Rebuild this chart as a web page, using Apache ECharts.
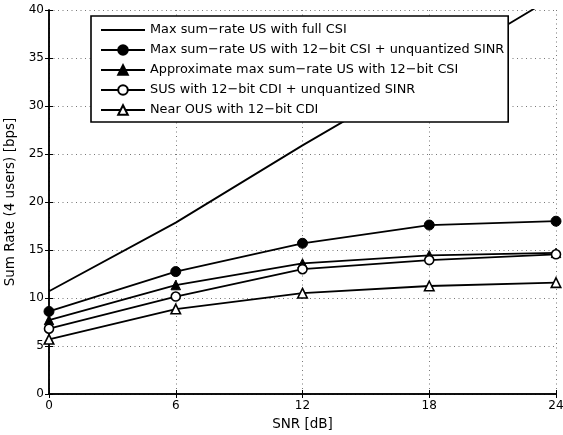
<!DOCTYPE html>
<html><head><meta charset="utf-8">
<script src="https://cdn.jsdelivr.net/npm/echarts@6/dist/echarts.min.js"></script>
<style>html,body{margin:0;padding:0;background:#fff}#c{width:563px;height:435px}</style>
</head><body><div id="c"></div>
<script>
const snr = [0, 6, 12, 18, 24];
const xTicks = [0, 6, 12, 18, 24];
const yTicks = [0, 5, 10, 15, 20, 25, 30, 35, 40];
const fullCSI = [10.7, 17.85, 25.9, 33.6, 41.5];
const csi12Sinr = [8.6, 12.75, 15.7, 17.6, 18.0];
const approx12 = [7.7, 11.35, 13.6, 14.45, 14.7];
const sus12 = [6.8, 10.15, 13.0, 13.95, 14.55];
const nearOus12 = [5.7, 8.85, 10.5, 11.25, 11.6];
const names = [
  'Max sum\u2212rate US with full CSI',
  'Max sum\u2212rate US with 12\u2212bit CSI + unquantized SINR',
  'Approximate max sum\u2212rate US with 12\u2212bit CSI',
  'SUS with 12\u2212bit CDI + unquantized SINR',
  'Near OUS with 12\u2212bit CDI'
];
const FONT = 'DejaVu Sans';
const pairs = v => snr.map((x, i) => [x, v[i]]);
const lineW = 1.8;
function mk(name, vals, symbol, filled, size) {
  return {
    name, type: 'line', data: pairs(vals),
    symbol: symbol, symbolSize: size, showSymbol: symbol !== 'none',
    lineStyle: { color: '#000', width: lineW },
    itemStyle: filled ? { color: '#000', borderColor: '#000', borderWidth: 1 } : { color: '#fff', borderColor: '#000', borderWidth: 1.6 },
    emphasis: { disabled: true }, animation: false, z: 3
  };
}
const chart = echarts.init(document.getElementById('c'), null, { renderer: 'canvas' });
const axisCommon = {
  type: 'value', axisLine: { show: true, lineStyle: { color: '#000', width: 1.5 } },
  axisTick: { show: true, inside: true, length: 4, lineStyle: { color: '#000', width: 1 } }
};
chart.setOption({
  animation: false,
  backgroundColor: '#fff',
  textStyle: { fontFamily: FONT, color: '#000' },
  grid: { left: 49, right: 7, top: 10, bottom: 41, containLabel: false, outerBoundsMode: 'none' },
  xAxis: [
    Object.assign({}, axisCommon, {
      min: xTicks[0], max: xTicks[xTicks.length - 1], interval: 6, position: 'bottom',
      name: 'SNR [dB]', nameLocation: 'middle', nameGap: 23,
      nameTextStyle: { fontFamily: FONT, fontSize: 13.5, color: '#000' },
      axisLabel: { fontFamily: FONT, fontSize: 12, color: '#000', margin: 6 },
      splitLine: { show: true, lineStyle: { color: '#777', width: 1, type: [1, 3.5] } }
    }),
    Object.assign({}, axisCommon, {
      min: xTicks[0], max: xTicks[xTicks.length - 1], interval: 6, position: 'top',
      axisLabel: { show: false }, splitLine: { show: false }
    })
  ],
  yAxis: [
    Object.assign({}, axisCommon, {
      min: yTicks[0], max: yTicks[yTicks.length - 1], interval: 5, position: 'left',
      name: 'Sum Rate (4 users) [bps]', nameLocation: 'middle', nameGap: 30,
      nameTextStyle: { fontFamily: FONT, fontSize: 13.5, color: '#000' },
      axisLabel: { fontFamily: FONT, fontSize: 12, color: '#000', margin: 5 },
      splitLine: { show: true, lineStyle: { color: '#777', width: 1, type: [1, 3.5] } }
    }),
    Object.assign({}, axisCommon, {
      min: yTicks[0], max: yTicks[yTicks.length - 1], interval: 5, position: 'right',
      axisLabel: { show: false }, splitLine: { show: false }
    })
  ],
  legend: {
    orient: 'vertical', left: 91, top: 16,
    backgroundColor: '#fff', borderColor: '#000', borderWidth: 1.6, borderRadius: 0,
    padding: [7, 4, 5, 9],
    itemWidth: 44, itemHeight: 12, itemGap: 6, itemTextGap: 5,
    textStyle: { fontFamily: FONT, fontSize: 12.85, color: '#000', lineHeight: 14 },
    data: [
      { name: names[0], icon: 'path://M0,0H44V1.8H0Z', itemStyle: { borderWidth: 0, color: '#000' } },
      names[1], names[2], names[3], names[4]
    ],
    selectedMode: false, z: 10
  },
  series: [
    mk(names[0], fullCSI, 'none', true, 0),
    mk(names[1], csi12Sinr, 'circle', true, 10),
    mk(names[2], approx12, 'triangle', true, 9.5),
    mk(names[3], sus12, 'circle', false, 9),
    mk(names[4], nearOus12, 'triangle', false, 9.5)
  ]
});
</script></body></html>
